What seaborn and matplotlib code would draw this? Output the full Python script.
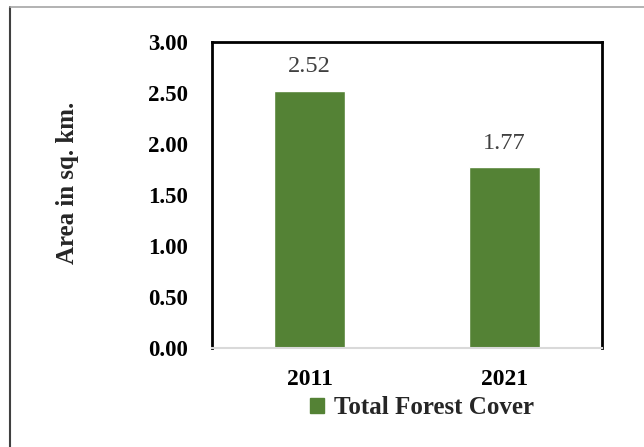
import matplotlib
matplotlib.use("Agg")
import matplotlib.pyplot as plt
from matplotlib.lines import Line2D
from matplotlib.patches import Patch
import seaborn as sns
import pandas as pd

years = ["2011", "2021"]
area = [2.52, 1.77]
series = "Total Forest Cover"
y_ticks = [0.0, 0.5, 1.0, 1.5, 2.0, 2.5, 3.0]

sns.set_style("white")
plt.rcParams["font.family"] = ["Liberation Serif", "DejaVu Serif"]

df = pd.DataFrame({"Year": years, "Area": area, "Series": [series] * len(years)})
green = "#548235"

fig = plt.figure(figsize=(6.44, 4.47), dpi=100)
ax = fig.add_axes([212 / 644, 1 - 348 / 447, 390 / 644, 306 / 447])

sns.barplot(data=df, x="Year", y="Area", hue="Series", palette=[green],
            width=0.36, ax=ax, legend=False, saturation=1)

ax.set_ylim(0, 3.0)
ax.set_yticks(y_ticks)
ax.set_yticklabels([f"{v:.2f}" for v in y_ticks], fontweight="bold", fontsize=16.5)
for lab in ax.get_xticklabels():
    lab.set_fontweight("bold")
    lab.set_fontsize(17)
ax.tick_params(axis="y", length=0, pad=17, colors="black")
ax.tick_params(axis="x", length=0, pad=15, colors="black")
ax.set_xlabel("")
ax.set_ylabel("Area in sq. km.", fontsize=18, fontweight="bold")
ax.yaxis.set_label_coords(-0.34, 0.54)

for side in ["left", "top", "right"]:
    ax.spines[side].set_color("black")
    ax.spines[side].set_linewidth(2)
    ax.spines[side].set_visible(True)
ax.spines["bottom"].set_color("#d9d9d9")
ax.spines["bottom"].set_linewidth(1.5)

for cont in ax.containers:
    ax.bar_label(cont, labels=[f"{v:.2f}" for v in cont.datavalues],
                 padding=10, fontsize=17.5, color="#404040")

handles = [Patch(facecolor=green, edgecolor=green, label=series)]
fig.legend(handles=handles, loc="center", bbox_to_anchor=(422 / 644, 1 - 408 / 447),
           frameon=False, prop={"weight": "bold", "size": 18},
           handlelength=0.55, handleheight=0.55, handletextpad=0.4)

# outer chart border (only top and left visible in reference)
fig.add_artist(Line2D([9.5 / 644, 9.5 / 644], [0, 1 - 7 / 447], color="#404040", lw=1.5,
                      transform=fig.transFigure))
fig.add_artist(Line2D([9.5 / 644, 1], [1 - 7 / 447, 1 - 7 / 447], color="#a6a6a6", lw=1.2,
                      transform=fig.transFigure))

fig.savefig("out.png", dpi=100)
